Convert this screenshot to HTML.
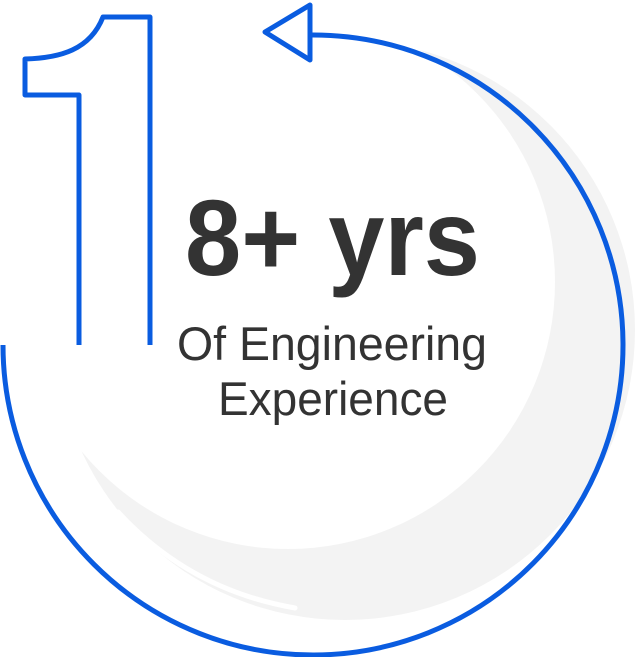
<!DOCTYPE html>
<html><head><style>
html,body{margin:0;padding:0;background:#fff;}
svg{display:block}
</style></head><body>
<svg width="643" height="657" viewBox="0 0 643 657" xmlns="http://www.w3.org/2000/svg">
<defs><mask id="m"><rect width="643" height="657" fill="#fff"/><circle cx="288" cy="282" r="267" fill="#000"/></mask></defs>
<circle cx="345" cy="330" r="290" fill="#f3f3f3" mask="url(#m)"/>
<path d="M118 512 Q190 590 295 608" stroke="#fff" stroke-width="5" fill="none" stroke-linecap="round"/>
<path d="M3 345 A310 310 0 1 0 310 35" stroke="#0a5ce0" stroke-width="5" fill="none"/>
<path d="M265 32 L310 5 L310 60 Z" stroke="#0a5ce0" stroke-width="5" fill="#fff" stroke-linejoin="round"/>
<path d="M79 345 L79 95 L25 95 L25 59 C60 58 90 50 103 17 L150 17 L150 345" stroke="#0a5ce0" stroke-width="5" fill="none" stroke-linejoin="round"/>
<text x="185" y="275" textLength="295" lengthAdjust="spacingAndGlyphs" font-family="Liberation Sans, sans-serif" font-weight="bold" font-size="108" fill="#333">8+ yrs</text>
<text x="177" y="360" textLength="310" lengthAdjust="spacingAndGlyphs" font-family="Liberation Sans, sans-serif" font-size="47" fill="#333">Of Engineering</text>
<text x="218" y="415" textLength="230" lengthAdjust="spacingAndGlyphs" font-family="Liberation Sans, sans-serif" font-size="47" fill="#333">Experience</text>
</svg>
</body></html>
